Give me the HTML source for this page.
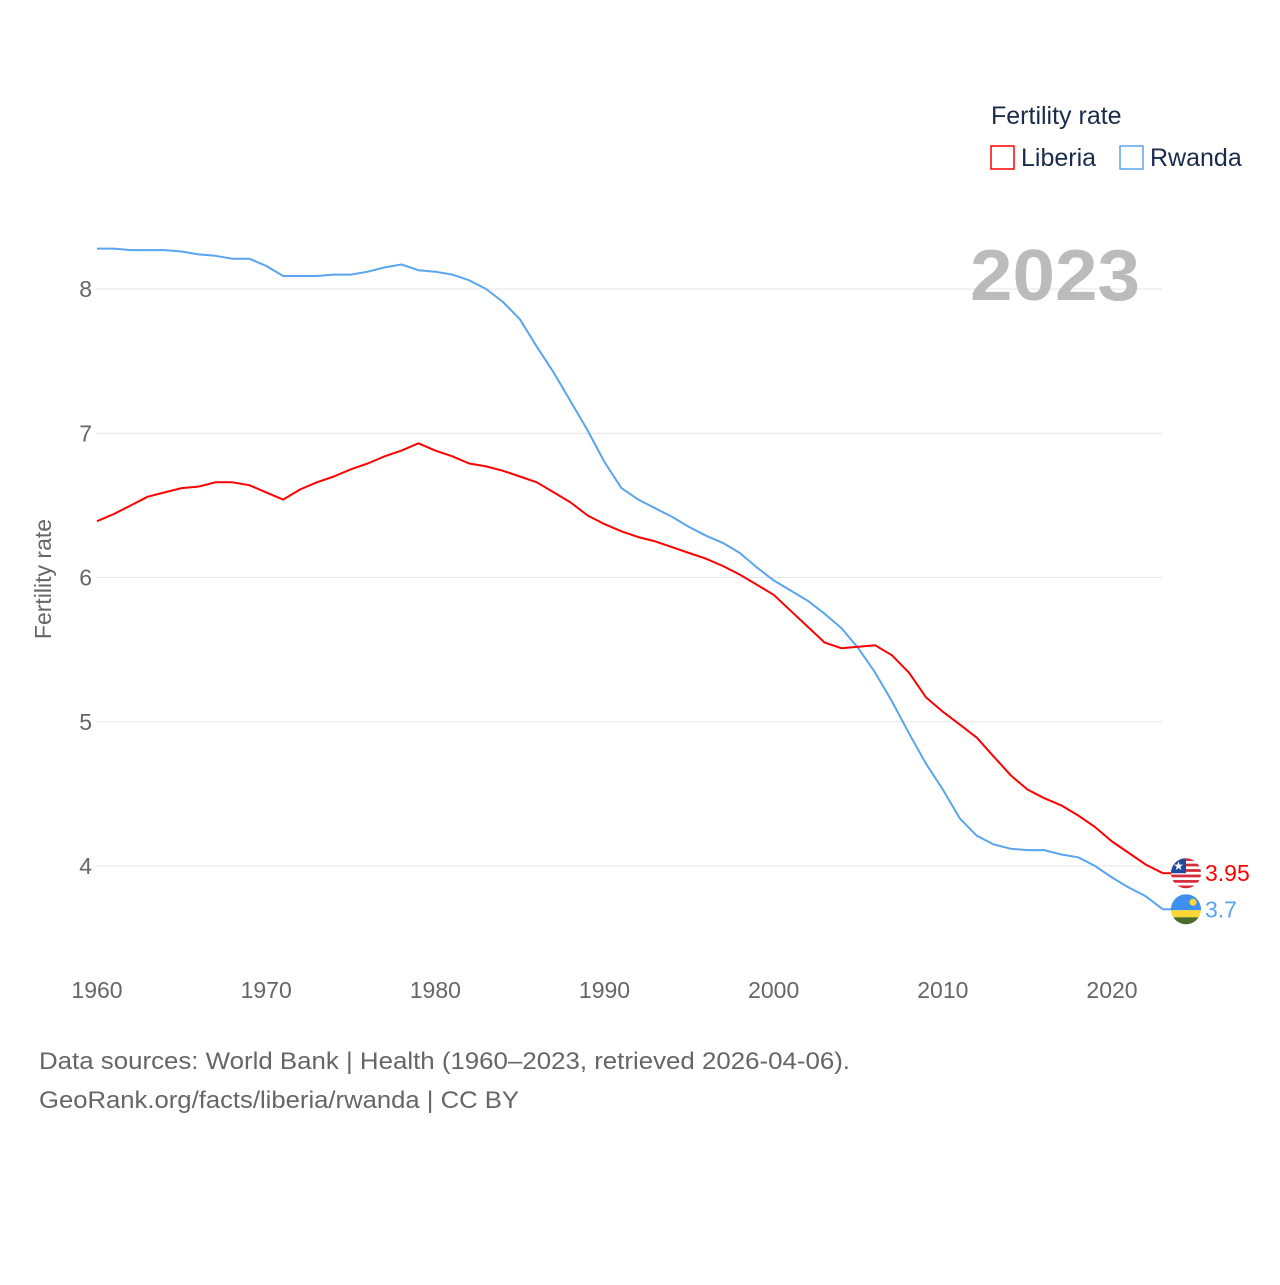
<!DOCTYPE html>
<html><head><meta charset="utf-8"><style>
body{margin:0;background:#fff;}
svg text{font-family:"Liberation Sans",sans-serif;}
</style></head><body>
<svg id="chart" width="1280" height="1280" xmlns="http://www.w3.org/2000/svg">
<rect width="1280" height="1280" fill="#fff"/>
<g id="grid"></g>
<g id="yticks"></g>
<g id="xticks"></g>
<text transform="translate(51,579) rotate(-90)" text-anchor="middle" font-size="23" fill="#666">Fertility rate</text>
<text x="1140" y="300" text-anchor="end" font-size="72" font-weight="bold" fill="#bbb" textLength="170" lengthAdjust="spacingAndGlyphs">2023</text>
<g>
<text x="991" y="124" font-size="25" fill="#1a2b4c">Fertility rate</text>
<rect x="991" y="146" width="23" height="23" fill="none" stroke="#f00" stroke-width="1.5"/>
<text x="1021" y="166" font-size="25" fill="#1a2b4c">Liberia</text>
<rect x="1120" y="146" width="23" height="23" fill="none" stroke="#5aa5ee" stroke-width="1.5"/>
<text x="1150" y="166" font-size="25" fill="#1a2b4c">Rwanda</text>
</g>
<g id="series"></g>
<g id="ends"></g>
<text x="39" y="1069" font-size="24" fill="#666" textLength="811" lengthAdjust="spacingAndGlyphs">Data sources: World Bank | Health (1960–2023, retrieved 2026-04-06).</text>
<text x="39" y="1108" font-size="24" fill="#666" textLength="480" lengthAdjust="spacingAndGlyphs">GeoRank.org/facts/liberia/rwanda | CC BY</text>
</svg>
<script>
const startYear = 1960;
const liberia = [6.39,6.44,6.50,6.56,6.59,6.62,6.63,6.66,6.66,6.64,
6.59,6.54,6.61,6.66,6.70,6.75,6.79,6.84,6.88,6.93,
6.88,6.84,6.79,6.77,6.74,6.70,6.66,6.59,6.52,6.43,
6.37,6.32,6.28,6.25,6.21,6.17,6.13,6.08,6.02,5.95,
5.88,5.77,5.66,5.55,5.51,5.52,5.53,5.46,5.34,5.17,
5.07,4.98,4.89,4.76,4.63,4.53,4.47,4.42,4.35,4.27,
4.17,4.09,4.01,3.95];
const rwanda = [8.28,8.28,8.27,8.27,8.27,8.26,8.24,8.23,8.21,8.21,
8.16,8.09,8.09,8.09,8.10,8.10,8.12,8.15,8.17,8.13,
8.12,8.10,8.06,8.00,7.91,7.79,7.60,7.42,7.22,7.02,
6.80,6.62,6.54,6.48,6.42,6.35,6.29,6.24,6.17,6.07,
5.98,5.91,5.84,5.75,5.65,5.51,5.34,5.14,4.92,4.71,
4.53,4.33,4.21,4.15,4.12,4.11,4.11,4.08,4.06,4.00,
3.92,3.85,3.79,3.70];
const yTicks = [4,5,6,7,8];
const xTicks = [1960,1970,1980,1990,2000,2010,2020];

const NS="http://www.w3.org/2000/svg";
const X = yr => 97 + (yr-1960)*(1112-97)/60;
const Y = v => 289 + (8-v)*144.25;
function mk(t,a,p){const e=document.createElementNS(NS,t);for(const k in a)e.setAttribute(k,a[k]);p.appendChild(e);return e;}
const grid=document.getElementById('grid'), yt=document.getElementById('yticks'), xt=document.getElementById('xticks');
yTicks.forEach(v=>{
  const l=mk('line',{x1:96,x2:1162,y1:Y(v),y2:Y(v),stroke:'#e6e6e6','stroke-width':1},grid);
  
  
  const t=mk('text',{x:92,y:Y(v)+8,'text-anchor':'end','font-size':23,fill:'#666'},yt);
  t.textContent=v;
  
  
});
xTicks.forEach(yr=>{
  const t=mk('text',{x:X(yr),y:998,'text-anchor':'middle','font-size':23,fill:'#666'},xt);
  t.textContent=yr;
  
  
});
const ser=document.getElementById('series');
function line(data,color,name){
  const d=data.map((v,i)=>(i?'L':'M')+X(startYear+i).toFixed(1)+','+Y(v).toFixed(1)).join('');
  const p=mk('path',{d:d,fill:'none',stroke:color,'stroke-width':2,'stroke-linejoin':'round'},ser);
  
  
}
line(rwanda,'#5aa5ee','rwanda-line');
line(liberia,'#f00','liberia-line');
const ends=document.getElementById('ends');
function endLabel(data,color,name,flag){
  const i=data.length-1, x=X(startYear+i), y=Y(data[i]);
  const g=mk('g',{},ends);
  
  
  mk('line',{x1:x,y1:y,x2:1172,y2:y,stroke:color,'stroke-width':2},g);
  const cx=1186, r=15;
  const cp=mk('clipPath',{id:'c'+name},g);
  mk('circle',{cx:cx,cy:y,r:r},cp);
  const fg=mk('g',{'clip-path':'url(#c'+name+')'},g);
  
  
  if(flag==='lr'){
    for(let k=0;k<11;k++) mk('rect',{x:cx-r,y:y-r+k*30/11,width:30,height:30/11+0.2,fill:k%2?'#fff':'#d52b3a'},fg);
    mk('rect',{x:cx-r,y:y-r,width:15,height:15,fill:'#1f4a9e'},fg);
    mk('text',{x:cx-7.5,y:y-3,'text-anchor':'middle','font-size':12,fill:'#fff'},fg).textContent='★';
  } else {
    mk('rect',{x:cx-r,y:y-r,width:30,height:16,fill:'#3d8ff0'},fg);
    mk('rect',{x:cx-r,y:y+1,width:30,height:7,fill:'#fdd835'},fg);
    mk('rect',{x:cx-r,y:y+8,width:30,height:8,fill:'#4b6b2a'},fg);
    mk('circle',{cx:cx+7,cy:y-7,r:3.5,fill:'#fdd835'},fg);
  }
  const t=mk('text',{x:1205,y:y+8,'font-size':23,fill:color},g);
  t.textContent=data[i];
}
endLabel(liberia,'#f00','liberia','lr');
endLabel(rwanda,'#5aa5ee','rwanda','rw');
</script>
</body></html>
